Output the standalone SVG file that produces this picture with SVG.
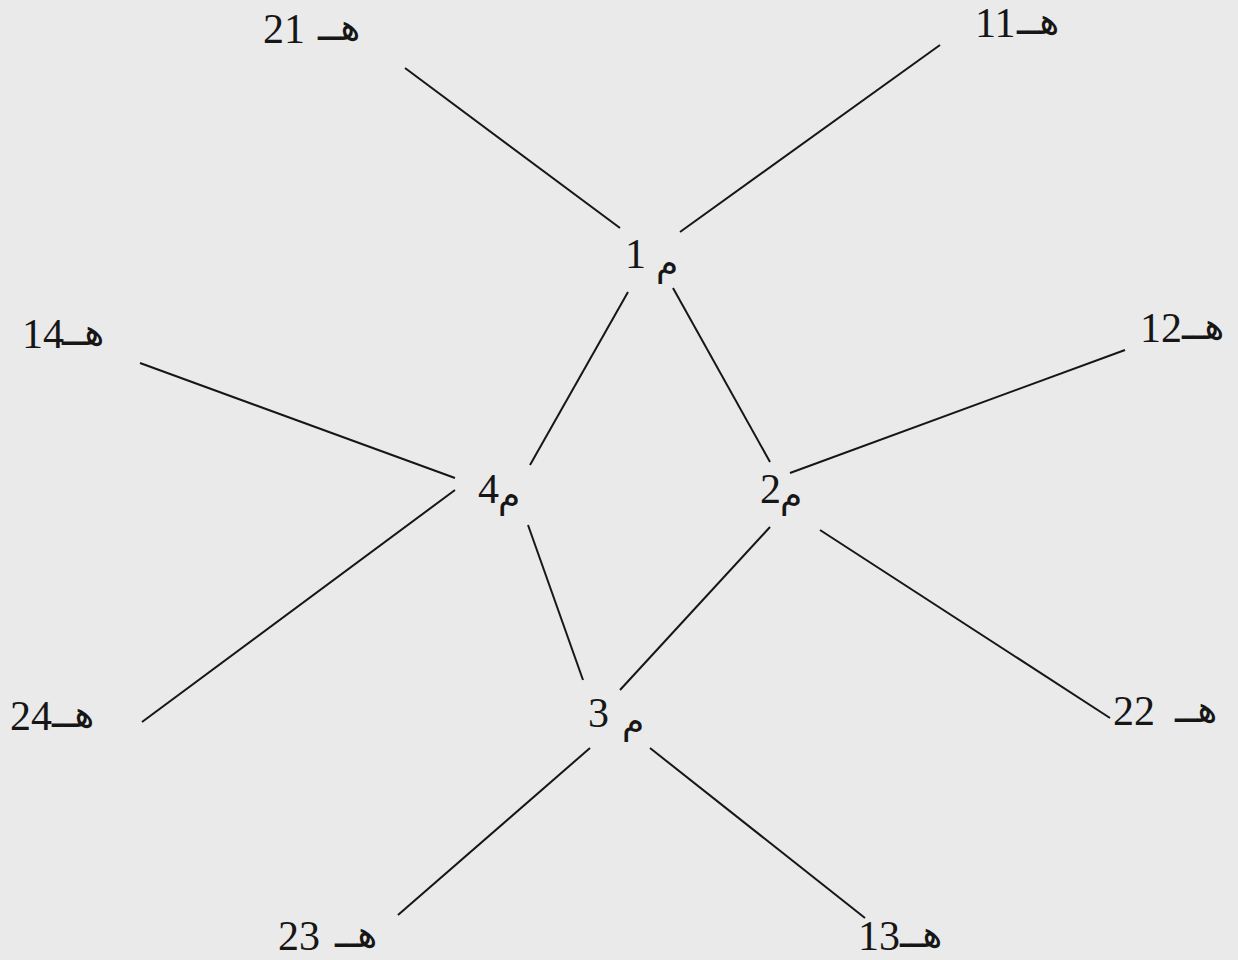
<svg xmlns="http://www.w3.org/2000/svg" width="1238" height="960" viewBox="0 0 1238 960">
<style>
.num{font-family:"Liberation Serif","Times New Roman",serif;font-size:42px;fill:#161616}
.ar{font-family:"DejaVu Sans","Noto Sans",sans-serif;font-size:38px;fill:#161616}
.m{font-family:"DejaVu Sans","Noto Sans",sans-serif;font-size:36px;fill:#161616}
.ln{stroke:#161616;stroke-width:2;fill:none}
</style>
<rect width="1238" height="960" fill="#eaeaea"/>
<g id="connectors">
<line class="ln" x1="405" y1="68" x2="620" y2="228"/>
<line class="ln" x1="940" y1="45" x2="680" y2="232"/>
<line class="ln" x1="628" y1="292" x2="530" y2="465"/>
<line class="ln" x1="673" y1="288" x2="770" y2="462"/>
<line class="ln" x1="140" y1="363" x2="455" y2="478"/>
<line class="ln" x1="1125" y1="350" x2="790" y2="473"/>
<line class="ln" x1="455" y1="490" x2="142" y2="722"/>
<line class="ln" x1="528" y1="525" x2="583" y2="680"/>
<line class="ln" x1="770" y1="527" x2="620" y2="690"/>
<line class="ln" x1="820" y1="530" x2="1110" y2="718"/>
<line class="ln" x1="590" y1="748" x2="398" y2="915"/>
<line class="ln" x1="650" y1="748" x2="865" y2="918"/>
</g>
<g id="h21"><text class="num" x="263" y="43">21</text><text class="ar" x="318" y="40">هــ</text></g>
<g id="h11"><text class="num" x="975" y="37">11</text><text class="ar" x="1017" y="34">هــ</text></g>
<g id="m1"><text class="num" x="625" y="268">1</text><text class="m" x="656" y="275">م</text></g>
<g id="h14"><text class="num" x="22" y="348">14</text><text class="ar" x="62" y="345">هــ</text></g>
<g id="h12"><text class="num" x="1140" y="342">12</text><text class="ar" x="1182" y="339">هــ</text></g>
<g id="m4"><text class="num" x="478" y="503">4</text><text class="m" x="498" y="507">م</text></g>
<g id="m2"><text class="num" x="760" y="503">2</text><text class="m" x="780" y="507">م</text></g>
<g id="h24"><text class="num" x="10" y="730">24</text><text class="ar" x="52" y="727">هــ</text></g>
<g id="h22"><text class="num" x="1113" y="725">22</text><text class="ar" x="1175" y="722">هــ</text></g>
<g id="m3"><text class="num" x="588" y="727">3</text><text class="m" x="622" y="733">م</text></g>
<g id="h23"><text class="num" x="278" y="950">23</text><text class="ar" x="335" y="947">هــ</text></g>
<g id="h13"><text class="num" x="858" y="950">13</text><text class="ar" x="900" y="947">هــ</text></g>
</svg>
